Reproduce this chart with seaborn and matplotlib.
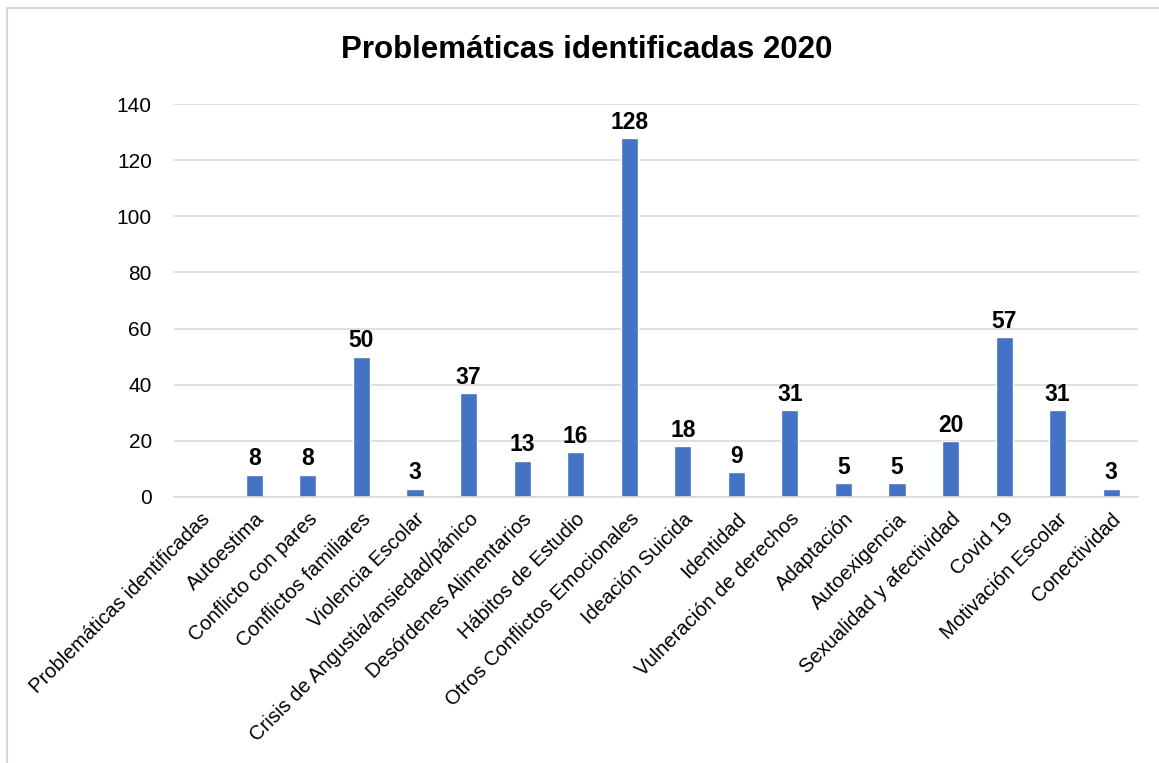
import matplotlib
matplotlib.use("Agg")
import matplotlib.pyplot as plt
import seaborn as sns
import pandas as pd
import numpy as np
from matplotlib.patches import Rectangle
from matplotlib import font_manager

categories = ["Problemáticas identificadas", "Autoestima", "Conflicto con pares",
              "Conflictos familiares", "Violencia Escolar",
              "Crisis de Angustia/ansiedad/pánico", "Desórdenes Alimentarios",
              "Hábitos de Estudio", "Otros Conflictos Emocionales", "Ideación Suicida",
              "Identidad", "Vulneración de derechos", "Adaptación", "Autoexigencia",
              "Sexualidad y afectividad", "Covid 19", "Motivación Escolar", "Conectividad"]
values = [np.nan, 8, 8, 50, 3, 37, 13, 16, 128, 18, 9, 31, 5, 5, 20, 57, 31, 3]
yticks = [0, 20, 40, 60, 80, 100, 120, 140]
title = "Problemáticas identificadas 2020"

sns.set_theme(style="white")
names = {f.name for f in font_manager.fontManager.ttflist}
fam = "Liberation Sans Narrow" if "Liberation Sans Narrow" in names else "Liberation Sans"
plt.rcParams['font.family'] = [fam, 'DejaVu Sans']
plt.rcParams['text.color'] = 'black'
plt.rcParams['xtick.color'] = 'black'
plt.rcParams['ytick.color'] = 'black'

df = pd.DataFrame({"cat": categories, "val": values})

fig = plt.figure(figsize=(11.59, 7.63), dpi=100)
ax = fig.add_axes([174/1159, 1 - 497/763, (1138-174)/1159, (497-104)/763])

sns.barplot(data=df, x="cat", y="val", color="#4472C4", width=0.32, ax=ax,
            saturation=1, errorbar=None)

ax.set_ylim(0, 140)
ax.set_xlim(-0.5, len(categories) - 0.5)
ax.set_yticks(yticks)
ax.set_yticklabels([str(t) for t in yticks], fontsize=15)
ax.yaxis.grid(True, color="#D9D9D9", linewidth=1.2)
ax.set_axisbelow(True)
for s in ["top", "right", "left"]:
    ax.spines[s].set_visible(False)
ax.spines["bottom"].set_color("#D9D9D9")
ax.spines["bottom"].set_linewidth(1.2)
ax.tick_params(axis="y", length=0, pad=16)
ax.tick_params(axis="x", length=0, pad=9)
ax.set_xlabel("")
ax.set_ylabel("")
ax.set_xticks(range(len(categories)))
ax.set_xticklabels(categories, rotation=45, ha="right", rotation_mode="anchor", fontsize=14.5)

for i, v in enumerate(values):
    if not np.isnan(v):
        ax.annotate(f"{int(v)}", (i, v), xytext=(0, 3), textcoords="offset points",
                    ha="center", va="bottom", fontsize=16.5, fontweight="bold")

fig.text(587/1159, 1 - 50/763, title, ha="center", va="center",
         fontsize=22.5, fontweight="bold")

fig.patches.append(Rectangle((7/1159, -0.1), 1.2, 1 - 8/763 + 0.1, transform=fig.transFigure,
                             fill=False, edgecolor="#D9D9D9", linewidth=1.5))

fig.savefig("out.png", dpi=100)
